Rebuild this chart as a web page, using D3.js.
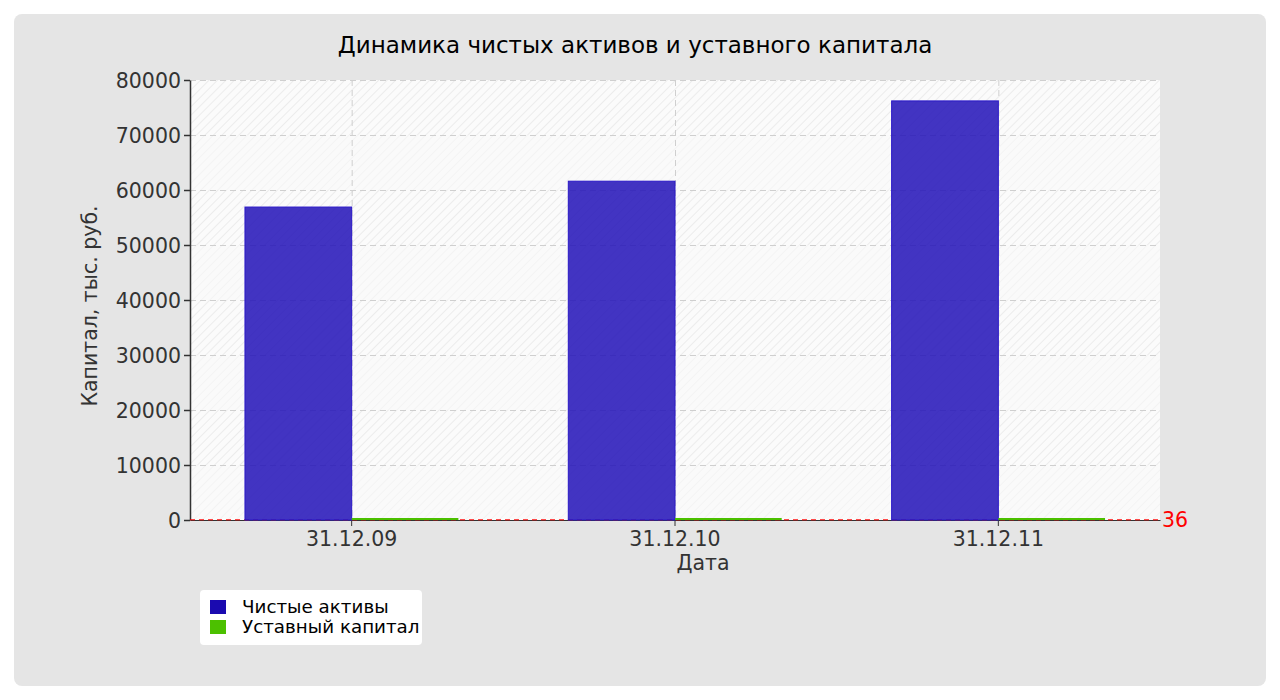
<!DOCTYPE html>
<html><head><meta charset="utf-8">
<script src="https://cdn.jsdelivr.net/npm/d3@7"></script>
<style>body{margin:0;background:#fff;font-family:"DejaVu Sans",sans-serif;}</style>
</head><body><svg id="c" width="1280" height="700"></svg>
<script>
const categories = ["31.12.09", "31.12.10", "31.12.11"];
const seriesNames = ["Чистые активы", "Уставный капитал"];
const netAssets = [56900, 61600, 76200];
const shareCapital = [36, 36, 36];
const yTicks = [0, 10000, 20000, 30000, 40000, 50000, 60000, 70000, 80000];
const refValue = 36;
const colors = ["#1a0ab0", "#4cc000"];
const barFill = ["rgba(40,24,186,0.88)", "#4cc000"];

const svg = d3.select("#c");
const defs = svg.append("defs");
const pat = defs.append("pattern").attr("id","hatch").attr("patternUnits","userSpaceOnUse")
  .attr("width",6).attr("height",6).attr("patternTransform","rotate(45)");
pat.append("rect").attr("width",6).attr("height",6).attr("fill","#fbfbfb");
pat.append("line").attr("x1",0).attr("y1",0).attr("x2",0).attr("y2",6).attr("stroke","#ececec").attr("stroke-width",2);

svg.append("rect").attr("x",14).attr("y",14).attr("width",1252).attr("height",672).attr("rx",8).attr("fill","#e5e5e5");

const L=190,R=1160,T=80,B=520;
const x0 = d3.scaleBand().domain(categories).range([L,R]).padding(0);
const x1 = d3.scaleBand().domain(seriesNames).range([x0.bandwidth()*0.17, x0.bandwidth()*0.83]).padding(0);
const y = d3.scaleLinear().domain([0,80000]).range([B,T]);

const g = svg.append("g");
g.append("rect").attr("x",L).attr("y",T).attr("width",R-L).attr("height",B-T).attr("fill","url(#hatch)");
g.selectAll(".band").data(yTicks.slice(0,-1).filter((d,i)=>i%2===0)).enter().append("rect")
  .attr("x",L).attr("width",R-L).attr("y",d=>y(d+10000)).attr("height",d=>y(d)-y(d+10000))
  .attr("fill","#fafafa").attr("opacity",0.55);

// grid
g.selectAll(".hg").data(yTicks.filter(d=>d>0)).enter().append("line")
  .attr("x1",L).attr("x2",R).attr("y1",d=>y(d)+0.5).attr("y2",d=>y(d)+0.5)
  .attr("stroke","#cfcfcf").attr("stroke-dasharray","6,4");
g.selectAll(".vg").data(categories).enter().append("line")
  .attr("x1",d=>x0(d)+x0.bandwidth()/2+0.5).attr("x2",d=>x0(d)+x0.bandwidth()/2+0.5)
  .attr("y1",T).attr("y2",B).attr("stroke","#cfcfcf").attr("stroke-dasharray","6,4");

// axes
const yAxis = g.append("g").attr("transform",`translate(${L},0)`)
  .call(d3.axisLeft(y).tickValues(yTicks).tickFormat(d3.format("d")).tickSize(6).tickSizeOuter(0));
yAxis.select(".domain").attr("stroke","#333").attr("stroke-width",1.5);
yAxis.selectAll(".tick line").attr("stroke","#333").attr("stroke-width",1.5);
yAxis.selectAll("text").attr("fill","#333").style("font-size","20.5px").style("font-family","DejaVu Sans").attr("dy","0.35em").attr("x",-9);

const xAxis = g.append("g").attr("transform",`translate(0,${B})`)
  .call(d3.axisBottom(x0).tickSize(6).tickSizeOuter(0));
xAxis.select(".domain").attr("stroke","#333");
xAxis.selectAll(".tick line").attr("stroke","#333");
xAxis.selectAll("text").attr("fill","#333").style("font-size","20.5px").style("font-family","DejaVu Sans").attr("dy","0.85em");

// reference line
g.append("line").attr("x1",L).attr("x2",R).attr("y1",y(refValue)).attr("y2",y(refValue))
  .attr("stroke","#ff0000").attr("stroke-dasharray","5,4").attr("stroke-width",1);
g.append("text").attr("x",R+2).attr("y",y(refValue)).attr("dy","0.35em").attr("fill","#ff0000")
  .style("font-size","20.5px").text(String(refValue));

// bars
const data = categories.map((c,i)=>({c, vals:[netAssets[i], shareCapital[i]]}));
const grp = g.selectAll(".grp").data(data).enter().append("g").attr("transform",d=>`translate(${x0(d.c)},0)`);
grp.selectAll("rect").data(d=>d.vals.map((v,j)=>({v,j}))).enter().append("rect")
  .attr("x",d=>x1(seriesNames[d.j])).attr("width",x1.bandwidth())
  .attr("y",d=>Math.min(y(d.v), B-2)).attr("height",d=>Math.max(2,B-y(d.v)))
  .attr("fill",d=>barFill[d.j]).attr("stroke",d=>d.j===0?"#2a18c8":"none").attr("stroke-width",1);

// titles
svg.append("text").attr("x",635).attr("y",45).attr("dy","0.35em").attr("text-anchor","middle")
  .attr("fill","#000").style("font-size","23px").text("Динамика чистых активов и уставного капитала");
svg.append("text").attr("transform","translate(90,306) rotate(-90)").attr("text-anchor","middle").attr("dy","0.35em")
  .attr("fill","#333").style("font-size","20.5px").text("Капитал, тыс. руб.");
svg.append("text").attr("x",703).attr("y",563).attr("text-anchor","middle").attr("dy","0.35em")
  .attr("fill","#333").style("font-size","20.5px").text("Дата");

// legend
const lg = svg.append("g");
lg.append("rect").attr("x",200).attr("y",590).attr("width",222).attr("height",55).attr("rx",4).attr("fill","#fff");
seriesNames.forEach((n,i)=>{
  lg.append("rect").attr("x",210).attr("y",600+i*20).attr("width",16).attr("height",14).attr("fill",colors[i]);
  lg.append("text").attr("x",242).attr("y",607+i*20).attr("dy","0.35em").style("font-size","18.3px").attr("fill","#000").text(n);
});
</script></body></html>
